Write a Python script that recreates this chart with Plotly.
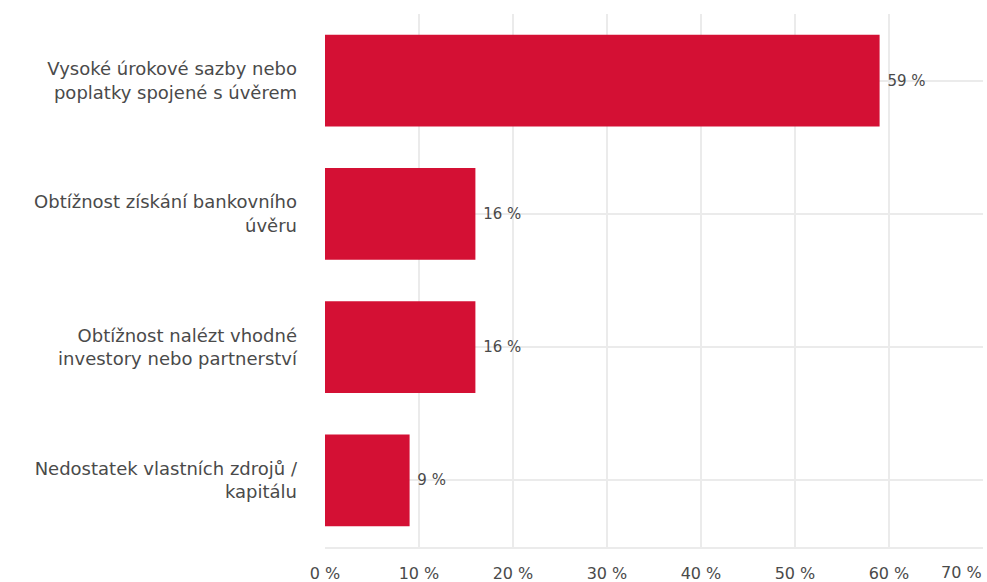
import plotly.graph_objects as go

categories = [
    "Vysoké úrokové sazby nebo<br>poplatky spojené s úvěrem",
    "Obtížnost získání bankovního<br>úvěru",
    "Obtížnost nalézt vhodné<br>investory nebo partnerství",
    "Nedostatek vlastních zdrojů /<br>kapitálu",
]
values = [59, 16, 16, 9]
tick_vals = [0, 10, 20, 30, 40, 50, 60, 70]
tick_text = ["0 %", "10 %", "20 %", "30 %", "40 %", "50 %", "60 %", "70 %"]

FONT = "DejaVu Sans, sans-serif"
TXT = "#4a4a4a"
GRID = "#ebebeb"
RED = "#d41034"

fig = go.Figure(
    go.Bar(
        x=values,
        y=categories,
        orientation="h",
        marker=dict(color=RED, line=dict(width=0)),
        width=0.69,
        text=[f"\u00a0{v} %" for v in values],
        textposition="outside",
        textfont=dict(family=FONT, size=15, color=TXT),
        cliponaxis=False,
        hoverinfo="skip",
    )
)

fig.update_layout(
    width=987,
    height=582,
    margin=dict(l=325, r=4, t=14, b=35),
    paper_bgcolor="white",
    plot_bgcolor="white",
    font=dict(family=FONT, size=18, color=TXT),
    showlegend=False,
)

fig.update_xaxes(
    range=[0, 70],
    tickvals=tick_vals[:-1],
    ticktext=tick_text[:-1],
    showgrid=True,
    gridcolor=GRID,
    gridwidth=1.5,
    zeroline=False,
    showline=True,
    linecolor=GRID,
    linewidth=1.5,
    tickfont=dict(family=FONT, size=16, color=TXT),
    ticklabelstandoff=11,
    automargin=False,
    fixedrange=True,
)
fig.add_annotation(
    x=tick_vals[-1], y=0, xref="x", yref="paper",
    text=tick_text[-1], showarrow=False,
    xanchor="right", yanchor="top", yshift=-15, xshift=0, borderpad=0,
    font=dict(family=FONT, size=16, color=TXT),
)

fig.update_yaxes(
    autorange="reversed",
    showgrid=True,
    gridcolor=GRID,
    gridwidth=1.5,
    zeroline=False,
    showline=False,
    ticks="",
    ticklabelstandoff=27,
    tickfont=dict(family=FONT, size=18, color=TXT),
    automargin=False,
    fixedrange=True,
)

fig.write_html("out.html")
